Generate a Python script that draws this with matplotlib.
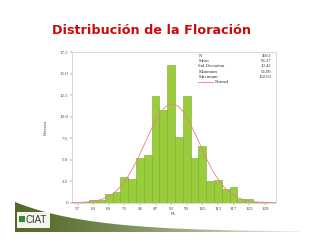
import numpy as np
import matplotlib
matplotlib.use("Agg")
import matplotlib.pyplot as plt
from matplotlib.patches import Polygon, Rectangle

# centros de clase (ancho 3) y porcentaje de cada clase
centros = [57, 60, 63, 66, 69, 72, 75, 78, 81, 84, 87, 90, 93, 96, 99,
           102, 105, 108, 111, 114, 117, 120, 123, 126, 129]
porcentaje = [0.0, 0.05, 0.3, 0.35, 1.05, 1.25, 3.0, 2.7, 5.2, 5.5, 12.45, 10.8, 16.05, 7.6, 12.4,
              5.15, 6.65, 2.55, 2.65, 1.6, 1.85, 0.45, 0.4, 0.1, 0.05]

etiquetas = ["N", "Mean", "Std Deviation", "Minimum", "Maximum"]
valores = ["4913", "93.37", "10.42", "56.00", "132.00"]
media = 93.37
desv = 10.42
ancho = 3

xticks = [57, 63, 69, 75, 81, 87, 93, 99, 105, 111, 117, 123, 129]
yticks = [0, 2.5, 5.0, 7.5, 10.0, 12.5, 15.0, 17.5]
ylabels = ["0", "2.5", "5.0", "7.5", "10.0", "12.5", "15.0", "17.5"]

W, H = 320, 247
fig = plt.figure(figsize=(W / 100, H / 100), dpi=100)
fig.patch.set_facecolor("white")

# fondo de la diapositiva (coordenadas en pixeles)
fondo = fig.add_axes([0, 0, 1, 1])
fondo.set_xlim(0, W)
fondo.set_ylim(H, 0)
fondo.axis("off")

# franja verde inferior con degradado
xs = np.linspace(15, 300, 60)
borde = 202 + 30 * (1 - np.exp(-(xs - 15) / 75.0))
verts = [(15, 232)] + list(zip(xs, borde)) + [(300, 232)]
franja = Polygon(verts, closed=True, facecolor="none", edgecolor="none")
fondo.add_patch(franja)
grad = np.linspace(0, 1, 256)
c1 = np.array([0.33, 0.42, 0.16])
c2 = np.array([0.93, 0.95, 0.90])
t = grad[:, None] ** 1.4
img = c1[None, :] * (1 - t) + c2[None, :] * t
img = img[None, :, :]
im = fondo.imshow(img, extent=(15, 300, 232, 200), aspect="auto", zorder=1)
im.set_clip_path(franja)

# logo CIAT
fondo.add_patch(Rectangle((17, 212), 33, 16, facecolor="#f4f6ee", edgecolor="none", zorder=2))
fondo.add_patch(Rectangle((19, 216), 6, 6, facecolor="#2e8b3a", edgecolor="none", zorder=3))
fondo.text(25, 219.5, "CIAT", fontsize=7, color="#3a3a3a", va="center", ha="left",
           family="Liberation Sans", zorder=3)

# titulo
fondo.text(52, 31, "Distribución de la Floración", fontsize=9.2, fontweight="bold",
           color="#cc0a0a", va="center", ha="left", family="DejaVu Sans")

# histograma
ax = fig.add_axes([72.3 / W, 1 - 202.7 / H, (276 - 72.3) / W, (202.7 - 52.3) / H])
ax.bar(centros, porcentaje, width=ancho, color="#9acd3c", edgecolor="#78a82e",
       linewidth=0.4, zorder=2)

xc = np.linspace(55, 133.3, 300)
curva = 100 * ancho / (desv * np.sqrt(2 * np.pi)) * np.exp(-0.5 * ((xc - media) / desv) ** 2)
ax.plot(xc, curva, color="#e88080", linewidth=0.6, zorder=3)

ax.set_xlim(55, 133.3)
ax.set_ylim(0, 17.5)
ax.set_xticks(xticks)
ax.set_xticklabels([str(t) for t in xticks])
ax.set_yticks(yticks)
ax.set_yticklabels(ylabels)
ax.tick_params(labelsize=3.6, length=1.5, width=0.3, pad=1.5, colors="#444444")
for lab in ax.get_xticklabels() + ax.get_yticklabels():
    lab.set_family("Liberation Serif")
for s in ax.spines.values():
    s.set_color("#cccccc")
    s.set_linewidth(0.5)
ax.set_xlabel("FL", fontsize=3.6, family="Liberation Serif", labelpad=1, color="#444444")
ax.set_ylabel("Percent", fontsize=3.6, family="Liberation Serif", labelpad=8, color="#444444")

# cuadro de estadisticos
for i, (e, v) in enumerate(zip(etiquetas, valores)):
    y = 17.1 - i * 0.62
    ax.text(103.5, y, e, fontsize=3.4, family="Liberation Serif", va="center", ha="left", color="#333333")
    ax.text(131.5, y, v, fontsize=3.4, family="Liberation Serif", va="center", ha="right", color="#333333")
y = 17.1 - 5 * 0.62
ax.plot([103.5, 109], [y, y], color="#e88080", linewidth=0.6)
ax.text(110, y, "Normal", fontsize=3.4, family="Liberation Serif", va="center", ha="left", color="#333333")

fig.savefig("out.png", dpi=100)
